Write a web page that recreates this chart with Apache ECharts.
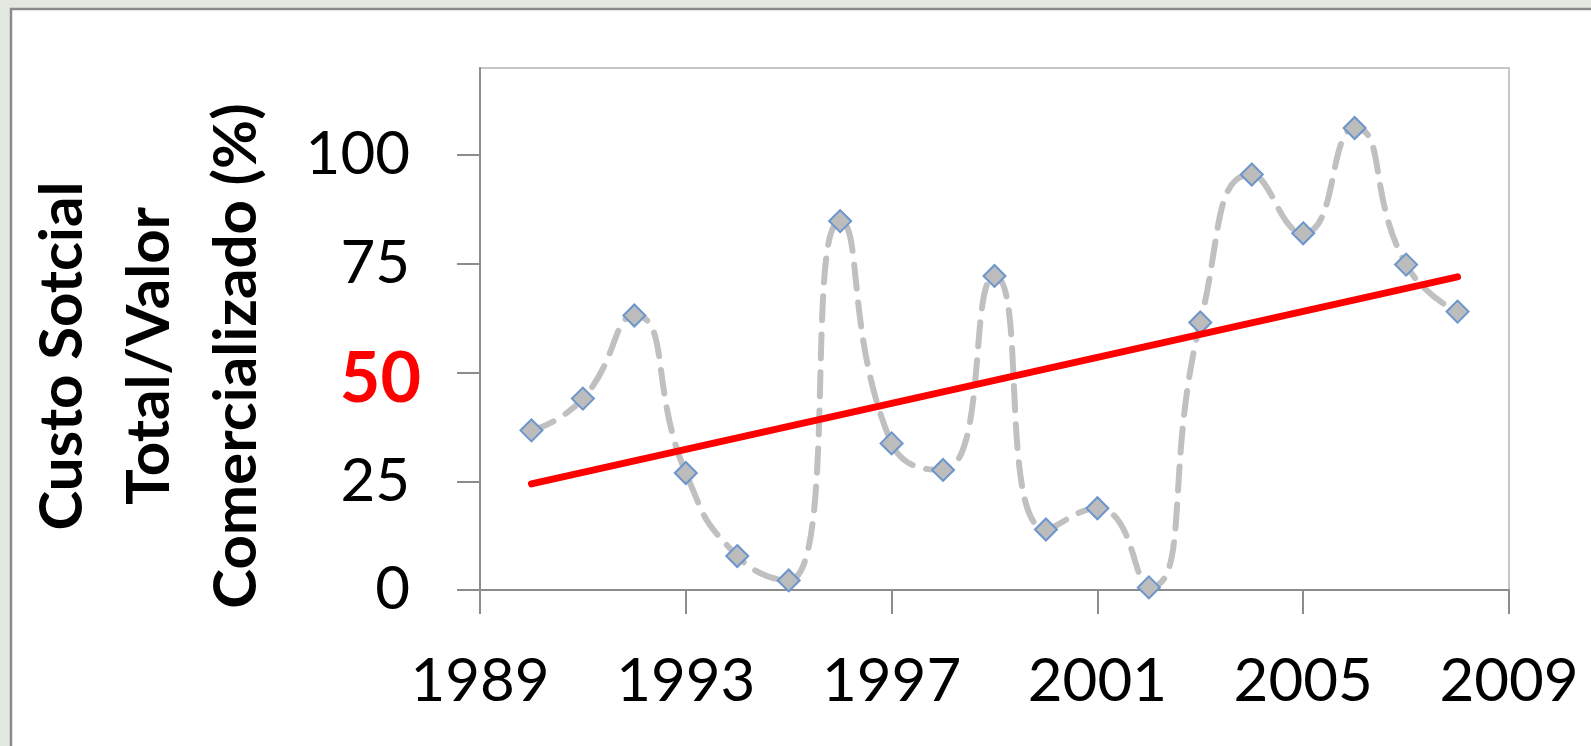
<!DOCTYPE html>
<html>
<head>
<meta charset="utf-8">
<script src="https://cdn.jsdelivr.net/npm/echarts@6/dist/echarts.min.js"></script>
<style>
  html, body { margin: 0; padding: 0; background: #e3e9e0; }
  #chart { width: 1591px; height: 746px; }
</style>
</head>
<body>
<div id="chart"></div>
<script>
// Annual ratio of total social cost to marketed value (%)
const years = [1990, 1991, 1992, 1993, 1994, 1995, 1996, 1997, 1998, 1999,
               2000, 2001, 2002, 2003, 2004, 2005, 2006, 2007, 2008];
const ratio = [36.7, 44.0, 63.1, 26.9, 7.8, 2.2, 84.8, 33.7, 27.6, 72.2,
               13.9, 18.8, 0.6, 61.5, 95.5, 82.0, 106.2, 74.8, 64.0];
// Linear trend, start and end
const trendYears = [1990, 2008];
const trendValues = [24.4, 72.0];
const yTicks = [0, 25, 50, 75, 100];
const xTicks = [1989, 1993, 1997, 2001, 2005, 2009];
const highlightTick = 50;
const yTitle = ['Custo Sotcial', 'Total/Valor', 'Comercializado (%)'];

const FONT = 'Lato, "Open Sans", sans-serif';

const chart = echarts.init(document.getElementById('chart'));
chart.setOption({
  backgroundColor: 'transparent',
  animation: false,
  graphic: [
    {
      type: 'rect', z: -10,
      shape: { x: 11, y: 9, width: 1650, height: 800 },
      style: { fill: '#ffffff', stroke: '#8a8a8a', lineWidth: 2.5 }
    },
    {
      type: 'text', z: 10,
      x: 150, y: 356, rotation: Math.PI / 2,
      style: {
        text: yTitle.join('\n'),
        fontFamily: FONT, fontWeight: 'bold', fontSize: 60,
        lineHeight: 87, fill: '#000000',
        align: 'center', verticalAlign: 'middle'
      }
    }
  ],
  grid: {
    left: 480, top: 68, right: 82, bottom: 156,
    show: true, borderColor: '#c6c6c6', borderWidth: 2, backgroundColor: 'transparent'
  },
  xAxis: {
    type: 'value', min: xTicks[0], max: xTicks[xTicks.length - 1], interval: 4,
    splitLine: { show: false },
    axisLine: { show: true, lineStyle: { color: '#8c8c8c', width: 2 } },
    axisTick: { show: true, length: 24, lineStyle: { color: '#8c8c8c', width: 2 } },
    axisLabel: {
      margin: 62, color: '#000', fontFamily: FONT, fontSize: 60,
      formatter: v => xTicks.includes(v) ? String(v) : ''
    }
  },
  yAxis: {
    type: 'value', min: 0, max: 120, interval: 25,
    splitLine: { show: false },
    axisLine: { show: true, lineStyle: { color: '#8c8c8c', width: 2 } },
    axisTick: {
      show: true, length: 23, lineStyle: { color: '#8c8c8c', width: 2 },
      customValues: yTicks
    },
    axisLabel: {
      margin: 59, fontFamily: FONT,
      customValues: yTicks,
      formatter: v => v === highlightTick ? '{r|' + v + '}' : '{n|' + v + '}',
      rich: {
        n: { color: '#000', fontFamily: FONT, fontSize: 60, padding: [0, 11, 0, 0] },
        r: { color: '#ff0000', fontFamily: FONT, fontSize: 70, fontWeight: 'bold', padding: [14, 0, 0, 0] }
      }
    }
  },
  series: [
    {
      type: 'line', smooth: 0.55,
      data: years.map((y, i) => [y, ratio[i]]),
      lineStyle: { color: '#c0c0c0', width: 6, type: [24, 14], cap: 'round' },
      symbol: 'diamond', symbolSize: 22,
      itemStyle: { color: '#bcbcbc', borderColor: '#6b95cc', borderWidth: 2 },
      z: 2
    },
    {
      type: 'line',
      data: trendYears.map((y, i) => [y, trendValues[i]]),
      lineStyle: { color: '#ff0000', width: 7, cap: 'round' },
      symbol: 'none',
      z: 3
    }
  ]
});
</script>
</body>
</html>
